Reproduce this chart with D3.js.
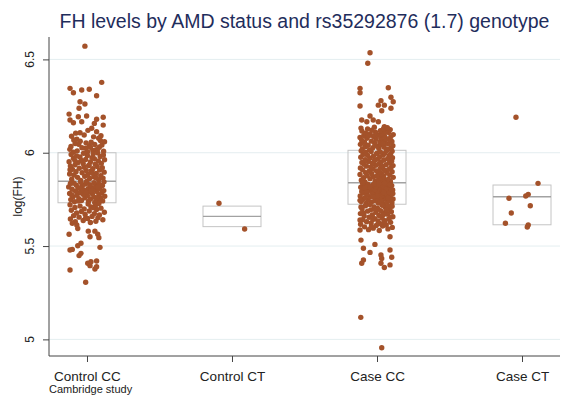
<!DOCTYPE html>
<html><head><meta charset="utf-8">
<script src="https://cdn.jsdelivr.net/npm/d3@7"></script>
<style>body{margin:0;background:#fff}svg{display:block}</style>
</head><body>
<svg id="chart" width="569" height="397"></svg>
<script>
// ---------- data ----------
const titleText = "FH levels by AMD status and rs35292876 (1.7) genotype";
const yLabel = "log(FH)";
const noteText = "Cambridge study";
const categories = ["Control CC", "Control CT", "Case CC", "Case CT"];
const yTicks = [5, 5.5, 6, 6.5];
const yDomain = [4.911, 6.62];

// box statistics [per category]
const boxQ1     = [5.732, 5.604, 5.724, 5.614];
const boxMedian = [5.847, 5.659, 5.839, 5.764];
const boxQ3     = [6.000, 5.714, 6.013, 5.827];

// points: [log(FH) value, horizontal jitter in -1..1]
const controlCC = [
[6.571,-0.11],[6.377,0.78],[6.345,-0.9],[6.321,-0.72],[6.336,-0.28],[6.340,0.12],[6.305,0.51],[6.273,-0.37],[6.261,-0.11],[6.238,-0.42],[6.207,-0.95],
[6.193,-0.46],[6.197,-0.02],[6.19,0.86],[6.179,0.51],[6.175,-0.9],[6.161,-0.72],[6.166,-0.28],[6.157,0.39],[6.148,0.86],[6.131,0.25],[6.113,0.51],[6.091,0.74],[6.107,-0.37],[6.072,-0.54],
[6.12,0.05],[6.105,-0.6],[6.085,0.35],[6.095,-0.15],[6.078,0.62],[6.088,-0.82],
[6.003,-0.72],[6.012,0.31],[6.024,-0.08],[6.031,0.66],[6.045,-0.44],[6.008,0.88],[6.018,-0.91],[6.037,0.12],[6.041,0.79],[6.027,-0.27],[6.015,0.47],[6.049,-0.63],[6.034,-0.85],[6.005,0.03],[6.021,0.58],[6.056,0.22],[6.062,-0.36],[6.066,0.71],[6.053,-0.05],[6.059,0.93],[6.068,-0.7],[6.044,0.41],[6.029,0.18],[6.01,-0.52],
[5.851,-0.33],[5.855,0.62],[5.858,-0.81],[5.862,0.14],[5.864,0.85],[5.868,-0.5],[5.871,0.36],[5.874,-0.12],[5.877,0.73],[5.881,-0.69],[5.883,0.05],[5.886,-0.92],[5.889,0.49],[5.893,-0.26],[5.896,0.91],[5.898,-0.58],[5.902,0.22],[5.905,-0.04],[5.907,0.67],[5.911,-0.77],[5.914,0.31],[5.917,-0.41],[5.92,0.81],[5.922,-0.15],[5.926,0.54],[5.929,-0.88],[5.931,0.09],[5.935,-0.63],[5.938,0.44],[5.941,-0.2],[5.943,0.76],[5.947,-0.47],[5.95,0.18],[5.952,-0.95],[5.956,0.6],[5.959,-0.3],[5.962,0.93],[5.964,-0.07],[5.968,0.39],[5.971,-0.72],[5.974,0.26],[5.977,-0.37],[5.98,0.7],[5.983,-0.55],[5.985,0.02],[5.988,0.87],[5.991,-0.84],[5.994,0.33],[5.997,-0.18],[5.999,0.57],[5.866,0.47],[5.909,-0.9],[5.933,0.11],[5.958,-0.64],[5.892,0.28],
[5.734,0.41],[5.737,-0.66],[5.739,0.08],[5.742,0.83],[5.744,-0.29],[5.747,0.55],[5.749,-0.86],[5.752,0.19],[5.754,-0.43],[5.757,0.71],[5.759,-0.11],[5.762,0.38],[5.764,-0.74],[5.767,0.94],[5.769,0.02],[5.772,-0.53],[5.774,0.63],[5.777,-0.21],[5.779,0.29],[5.782,-0.92],[5.784,0.78],[5.787,-0.35],[5.789,0.13],[5.792,0.52],[5.794,-0.6],[5.797,0.89],[5.799,-0.16],[5.802,0.35],[5.804,-0.79],[5.807,0.06],[5.809,0.68],[5.812,-0.48],[5.814,0.23],[5.817,-0.97],[5.819,0.46],[5.822,-0.25],[5.824,0.82],[5.827,-0.57],[5.829,0.15],[5.832,-0.09],[5.834,0.61],[5.837,-0.7],[5.839,0.37],[5.842,-0.33],[5.844,0.9],[5.846,-0.02],[5.775,-0.82],[5.796,0.2],[5.81,-0.39],[5.826,0.72],[5.758,0.5],[5.741,-0.45],[5.788,-0.06],[5.816,0.58],[5.835,-0.88],
[5.626,0.18],[5.63,-0.62],[5.633,0.47],[5.637,-0.2],[5.641,0.84],[5.645,-0.88],[5.648,0.03],[5.652,0.58],[5.655,-0.42],[5.659,0.27],[5.663,-0.71],[5.666,0.66],[5.67,-0.1],[5.674,0.39],[5.677,-0.55],[5.681,0.92],[5.685,-0.3],[5.688,0.12],[5.692,-0.83],[5.696,0.51],[5.699,-0.15],[5.703,0.74],[5.707,-0.64],[5.71,0.21],[5.714,-0.37],[5.718,0.45],[5.721,-0.9],[5.725,0.06],[5.728,0.63],[5.65,-0.07],[5.705,0.33],
[5.563,-0.95],[5.493,0.69],[5.479,-0.9],[5.482,-0.78],[5.502,-0.49],[5.515,-0.32],[5.449,-0.42],[5.461,-0.32],[5.408,0.04],[5.395,0.16],[5.416,0.21],[5.42,0.51],[5.377,0.42],[5.389,0.51],[5.372,-0.9],[5.306,-0.07],[5.563,0.57],[5.545,0.63],[5.55,0.16],[5.58,0.42],[5.58,0.07],[5.594,-0.49],[5.622,-0.78],[5.613,-0.54]
];
const controlCT = [[5.729,-0.69],[5.591,0.67]];
const caseCC = [
[6.536,-0.37],[6.479,-0.49],[6.345,-0.9],[6.321,-0.9],[6.348,0.6],[6.25,-0.9],[6.297,0.74],[6.273,0.86],[6.279,0.21],[6.255,0.07],[6.255,0.39],[6.225,0.25],[6.238,0.74],[6.197,-0.37],[6.175,-0.2],[6.166,0.07],[6.175,-0.81],[6.166,-0.54],[6.139,0.39],
[6.015,-0.4],[6.017,0.56],[6.02,-0.78],[6.022,0.1],[6.025,0.75],[6.027,-0.22],[6.03,0.38],[6.032,-0.62],[6.035,0.02],[6.037,0.84],[6.04,-0.47],[6.042,0.24],[6.045,-0.88],[6.047,0.6],[6.05,-0.12],[6.052,0.43],[6.055,-0.66],[6.057,0.15],[6.06,0.79],[6.062,-0.3],[6.065,0.33],[6.067,-0.81],[6.07,0.66],[6.072,-0.05],[6.075,0.5],[6.077,-0.54],[6.08,0.2],[6.082,-0.9],[6.085,0.73],[6.087,-0.18],[6.09,0.4],[6.092,-0.7],[6.095,0.06],[6.097,0.86],[6.1,-0.36],[6.102,0.28],[6.105,-0.6],[6.108,0.62],[6.11,-0.08],[6.113,0.46],[6.116,-0.8],[6.118,0.18],[6.121,-0.27],[6.124,0.7],[6.127,-0.5],[6.129,0.35],[6.132,-0.85],[6.134,0.55],[6.137,-0.14],[6.05,0.3],[6.09,-0.45],
[5.841,0.27],[5.843,-0.64],[5.846,0.71],[5.848,-0.1],[5.851,0.45],[5.853,-0.83],[5.856,0.08],[5.858,0.6],[5.861,-0.37],[5.863,0.2],[5.866,-0.71],[5.868,0.86],[5.871,-0.18],[5.873,0.35],[5.876,-0.52],[5.878,0.02],[5.881,0.68],[5.883,-0.9],[5.886,0.25],[5.888,-0.28],[5.891,0.52],[5.893,-0.6],[5.896,0.13],[5.898,0.8],[5.901,-0.42],[5.903,-0.03],[5.906,0.4],[5.908,-0.76],[5.911,0.62],[5.913,-0.21],[5.916,0.17],[5.918,-0.88],[5.921,0.74],[5.923,-0.33],[5.926,0.3],[5.928,-0.56],[5.931,0.85],[5.933,-0.07],[5.936,0.48],[5.938,-0.68],[5.941,0.11],[5.943,-0.25],[5.946,0.66],[5.948,-0.8],[5.951,0.22],[5.953,-0.46],[5.956,0.78],[5.958,-0.13],[5.961,0.37],[5.963,-0.63],[5.966,0.04],[5.968,0.57],[5.971,-0.38],[5.973,0.82],[5.976,-0.86],[5.978,0.15],[5.981,-0.19],[5.983,0.64],[5.986,-0.5],[5.988,0.33],[5.991,-0.74],[5.993,0.72],[5.996,-0.02],[5.998,0.43],[6.001,-0.6],[6.003,0.18],[6.006,-0.31],[6.008,0.8],[6.01,-0.84],[6.012,0.5],
[5.726,0.35],[5.728,-0.58],[5.731,0.07],[5.732,0.79],[5.735,-0.3],[5.736,0.52],[5.739,-0.84],[5.74,0.16],[5.743,-0.11],[5.744,0.66],[5.747,-0.47],[5.748,0.29],[5.751,-0.73],[5.752,0.85],[5.755,-0.02],[5.756,0.41],[5.759,-0.62],[5.76,0.11],[5.763,0.7],[5.764,-0.35],[5.767,0.23],[5.768,-0.89],[5.771,0.56],[5.772,-0.17],[5.775,0.33],[5.776,-0.52],[5.779,0.77],[5.78,-0.08],[5.783,0.46],[5.784,-0.69],[5.787,0.14],[5.788,-0.27],[5.791,0.62],[5.792,-0.81],[5.795,0.03],[5.796,0.38],[5.799,-0.44],[5.8,0.83],[5.803,-0.14],[5.804,0.25],[5.807,-0.6],[5.808,0.69],[5.811,-0.33],[5.812,0.09],[5.815,-0.86],[5.816,0.5],[5.819,-0.05],[5.82,0.31],[5.823,-0.71],[5.824,0.78],[5.827,-0.23],[5.828,0.18],[5.831,-0.49],[5.832,0.6],[5.835,-0.12],[5.836,0.4],[5.838,-0.77],[5.745,-0.9],[5.757,0.6],[5.769,0.0],[5.781,0.84],[5.793,-0.55],[5.805,0.47],[5.817,-0.39],[5.829,0.72],[5.741,0.22],[5.763,-0.2],[5.787,0.35],[5.811,-0.65],[5.833,0.1],
[5.583,0.12],[5.588,-0.45],[5.592,0.58],[5.596,-0.2],[5.6,0.81],[5.603,-0.66],[5.607,0.3],[5.61,-0.04],[5.613,0.49],[5.617,-0.87],[5.62,0.17],[5.624,-0.31],[5.627,0.72],[5.63,-0.55],[5.634,0.05],[5.637,0.38],[5.641,-0.76],[5.644,0.62],[5.647,-0.12],[5.651,0.26],[5.654,-0.42],[5.657,0.84],[5.661,-0.68],[5.664,0.1],[5.667,-0.25],[5.671,0.55],[5.674,-0.88],[5.677,0.34],[5.681,-0.06],[5.684,0.76],[5.687,-0.5],[5.69,0.19],[5.694,-0.33],[5.697,0.65],[5.7,-0.79],[5.703,0.02],[5.707,0.44],[5.71,-0.16],[5.713,0.8],[5.716,-0.61],[5.719,0.27],[5.722,-0.38],[5.605,-0.3],[5.628,0.4],[5.655,0.7],[5.678,-0.72],[5.698,-0.1],[5.715,0.6],[5.668,0.33],[5.642,-0.22],[5.692,0.5],[5.709,-0.85],
[5.64,-0.9],[5.586,-0.9],[5.532,-0.85],[5.488,-0.72],[5.466,-0.37],[5.509,-0.11],[5.408,-0.81],[5.425,-0.72],[5.452,0.21],[5.434,0.25],[5.408,0.21],[5.385,0.39],[5.399,0.69],[5.44,0.78],[5.479,0.69],[5.55,0.69],[5.118,-0.86],[4.955,0.25]
];
const caseCT = [[6.19,-0.32],[5.836,0.85],[5.777,0.33],[5.768,0.2],[5.756,-0.69],[5.716,0.44],[5.677,-0.57],[5.622,-0.88],[5.602,0.28],[5.613,0.33]];
const groups = [controlCC, controlCT, caseCC, caseCT];

// ---------- chart ----------
const svg = d3.select("#chart");
const mLeft = 49, mRight = 560, mTop = 37, mBottom = 356;
const font = "'Liberation Sans', Arial, sans-serif";
const dotColor = "#a4522a";

const x = d3.scalePoint().domain(categories).range([mLeft, mRight]).padding(0.262);
const y = d3.scaleLinear().domain(yDomain).range([mBottom, mTop]);
const step = x.step();
const jitterHalf = step * 0.13;
const boxHalf = step * 0.2;

// title
svg.append("text").attr("x", (mLeft + mRight) / 2).attr("y", 28)
  .attr("text-anchor", "middle").attr("font-family", font).attr("font-size", 19.5)
  .attr("fill", "#1f2d5c").text(titleText);

// gridlines
svg.append("g").selectAll("line").data(yTicks).join("line")
  .attr("x1", mLeft).attr("x2", mRight)
  .attr("y1", d => y(d)).attr("y2", d => y(d))
  .attr("stroke", "#e4eef0").attr("stroke-width", 1);

// boxes
const boxes = svg.append("g");
categories.forEach((c, i) => {
  boxes.append("rect")
    .attr("x", x(c) - boxHalf).attr("width", 2 * boxHalf)
    .attr("y", y(boxQ3[i])).attr("height", y(boxQ1[i]) - y(boxQ3[i]))
    .attr("fill", "none").attr("stroke", "#c4c4c4").attr("stroke-width", 1);
  boxes.append("line")
    .attr("x1", x(c) - boxHalf).attr("x2", x(c) + boxHalf)
    .attr("y1", y(boxMedian[i])).attr("y2", y(boxMedian[i]))
    .attr("stroke", "#a2a2a2").attr("stroke-width", 1.4);
});

// points
const pts = svg.append("g");
groups.forEach((g, i) => {
  pts.selectAll(null).data(g).join("circle")
    .attr("cx", d => x(categories[i]) + d[1] * jitterHalf)
    .attr("cy", d => y(d[0]))
    .attr("r", 2.7)
    .attr("fill", dotColor);
});

// y axis
const yAxis = svg.append("g").attr("transform", `translate(${mLeft},0)`)
  .call(d3.axisLeft(y).tickValues(yTicks).tickSize(6).tickFormat(d3.format("")));
yAxis.select(".domain").attr("stroke", "#444").attr("d", `M0,${mTop}V${mBottom}`);
yAxis.selectAll(".tick line").attr("stroke", "#444");
yAxis.selectAll(".tick text").remove();
svg.append("g").selectAll("text").data(yTicks).join("text")
  .attr("transform", d => `translate(34,${y(d)}) rotate(-90)`)
  .attr("text-anchor", "middle").attr("font-family", font).attr("font-size", 12)
  .attr("fill", "#222").text(d => d3.format("")(d));

// y label
svg.append("text").attr("transform", `translate(22,${(mTop + mBottom) / 2}) rotate(-90)`)
  .attr("text-anchor", "middle").attr("font-family", font).attr("font-size", 12)
  .attr("fill", "#222").text(yLabel);

// x axis
const xAxis = svg.append("g").attr("transform", `translate(0,${mBottom})`)
  .call(d3.axisBottom(x).tickSize(6).tickSizeOuter(0));
xAxis.select(".domain").attr("stroke", "#444").attr("d", `M${mLeft},0H${mRight}`);
xAxis.selectAll(".tick line").attr("stroke", "#444");
xAxis.selectAll(".tick text").attr("font-family", font).attr("font-size", 13.5)
  .attr("fill", "#222").attr("dy", null).attr("y", 25);

// note
svg.append("text").attr("x", mLeft).attr("y", 393).attr("font-family", font)
  .attr("font-size", 11).attr("fill", "#222").text(noteText);
</script>
</body></html>
